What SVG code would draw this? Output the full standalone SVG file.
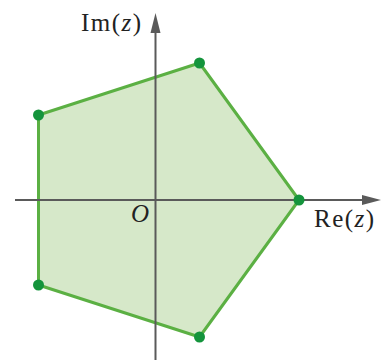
<svg xmlns="http://www.w3.org/2000/svg" width="384" height="363" viewBox="0 0 384 363">
<style>
.axis{stroke:#5a5a5a;stroke-width:2;fill:none}
.lbl{font-family:"Liberation Serif","DejaVu Serif",serif;font-size:25px;fill:#222;letter-spacing:1.5px}
.dot{fill:#14943c}
</style>
<rect width="384" height="363" fill="#fff"/>
<g id="pentagon">
<polygon points="299,200 199.5,63 38.5,115 38.5,285 199.5,337" fill="#d6e8c9" stroke="#5bb043" stroke-width="3" stroke-linejoin="round"/>
</g>
<g id="connectors">
<line class="axis" x1="15" y1="200" x2="372" y2="200"/>
<path d="M362,195 L381,200 L362,205 Z" fill="#5a5a5a"/>
<line class="axis" x1="155.5" y1="360" x2="155.5" y2="28"/>
<path d="M150.5,33 L155.5,13 L160.5,33 Z" fill="#5a5a5a"/>
</g>
<g id="vertices">
<circle class="dot" cx="299" cy="200" r="5.5"/>
<circle class="dot" cx="199.5" cy="63" r="5.5"/>
<circle class="dot" cx="38.5" cy="115" r="5.5"/>
<circle class="dot" cx="38.5" cy="285" r="5.5"/>
<circle class="dot" cx="199.5" cy="337" r="5.5"/>
</g>
<g id="labels">
<text class="lbl" x="81" y="31">Im(<tspan font-style="italic">z</tspan>)</text>
<text class="lbl" x="314" y="227">Re(<tspan font-style="italic">z</tspan>)</text>
<text class="lbl" x="131" y="222" font-style="italic">O</text>
</g>
</svg>
